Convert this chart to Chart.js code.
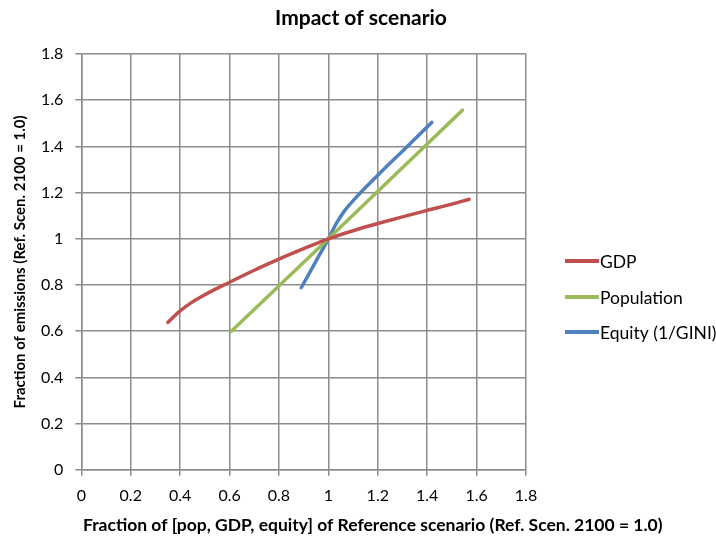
<!DOCTYPE html>
<html>
<head>
<meta charset="utf-8">
<script src="https://cdn.jsdelivr.net/npm/chart.js@4/dist/chart.umd.min.js"></script>
<style>
  html, body { margin: 0; padding: 0; background: #fff; }
  #wrap { width: 716px; height: 537px; }
</style>
</head>
<body>
<div id="wrap"><canvas id="chart"></canvas></div>
<script>
// values
const gdpX = [0.35, 0.40, 0.45, 0.50, 0.60, 0.70, 0.80, 0.90, 1.00, 1.10, 1.20, 1.30, 1.40, 1.50, 1.57];
const gdpY = [0.638, 0.688, 0.727, 0.758, 0.812, 0.864, 0.912, 0.957, 1.00, 1.035, 1.066, 1.095, 1.123, 1.15, 1.171];
const popX = [0.607, 1.00, 1.543];
const popY = [0.60, 1.00, 1.557];
const eqX = [0.89, 0.945, 1.00, 1.033, 1.066, 1.107, 1.20, 1.31, 1.419];
const eqY = [0.788, 0.894, 1.00, 1.068, 1.122, 1.173, 1.275, 1.39, 1.504];
const seriesNames = ['GDP', 'Population', 'Equity (1/GINI)'];
const seriesColors = ['#C0504D', '#9BBB59', '#4F81BD'];
const chartTitle = 'Impact of scenario';
const xTitle = 'Fraction of [pop, GDP, equity] of Reference scenario (Ref. Scen. 2100 = 1.0)';
const yTitle = 'Fraction of emissions (Ref. Scen. 2100 = 1.0)';

const font = 'Lato, "Open Sans", sans-serif';

function pts(xs, ys) {
  return xs.map((x, i) => ({ x: x, y: ys[i] }));
}

// legend, main title and the long x title are drawn here:
// they sit outside the plot area in the original (chart.js would centre/squash them)
const extras = {
  id: 'extras',
  afterDraw(chart) {
    const ctx = chart.ctx;
    const rows = [261, 297, 332];
    ctx.save();
    ctx.fillStyle = '#000';
    chart.data.datasets.forEach((ds, i) => {
      ctx.strokeStyle = ds.borderColor;
      ctx.lineWidth = 4;
      ctx.beginPath();
      ctx.moveTo(565, rows[i]);
      ctx.lineTo(599, rows[i]);
      ctx.stroke();
      ctx.font = '17.5px ' + font;
      ctx.textBaseline = 'middle';
      ctx.fillText(ds.label, 600, rows[i] + 1);
    });
    ctx.textBaseline = 'alphabetic';
    ctx.font = 'bold 21px ' + font;
    ctx.textAlign = 'center';
    ctx.fillText(chartTitle, 361, 25);
    ctx.font = 'bold 17.5px ' + font;
    ctx.textAlign = 'left';
    ctx.fillText(xTitle, 83, 531);
    ctx.restore();
  }
};

const tickFmt = v => String(Number(v.toFixed(1)));

new Chart(document.getElementById('chart'), {
  type: 'scatter',
  data: {
    datasets: [
      { label: seriesNames[0], data: pts(gdpX, gdpY), borderColor: seriesColors[0] },
      { label: seriesNames[1], data: pts(popX, popY), borderColor: seriesColors[1] },
      { label: seriesNames[2], data: pts(eqX, eqY), borderColor: seriesColors[2] }
    ].map(d => Object.assign(d, {
      showLine: true, borderWidth: 3.5, pointRadius: 0,
      cubicInterpolationMode: 'monotone',
      backgroundColor: d.borderColor, borderCapStyle: 'round'
    }))
  },
  options: {
    responsive: true,
    maintainAspectRatio: false,
    animation: false,
    layout: { padding: { left: 6, right: 190, top: 54, bottom: 22 } },
    plugins: {
      legend: { display: false },
      tooltip: { enabled: false },
      title: { display: false }
    },
    scales: {
      x: {
        type: 'linear', min: 0, max: 1.8,
        ticks: { stepSize: 0.2, color: '#000', font: { family: font, size: 16 }, padding: 10, callback: tickFmt },
        grid: { color: '#8c8c8c', lineWidth: 1.5, tickLength: 6 },
        border: { color: '#8c8c8c', width: 1.5 },
        title: { display: false }
      },
      y: {
        type: 'linear', min: 0, max: 1.8,
        ticks: { stepSize: 0.2, color: '#000', font: { family: font, size: 16 }, padding: 12, callback: tickFmt },
        grid: { color: '#8c8c8c', lineWidth: 1.5, tickLength: 6 },
        border: { color: '#8c8c8c', width: 1.5 },
        title: {
          display: true, color: '#000', text: yTitle,
          font: { family: font, size: 15, weight: 'bold' }, padding: { top: 5, bottom: 0 }
        }
      }
    }
  },
  plugins: [extras]
});
</script>
</body>
</html>
